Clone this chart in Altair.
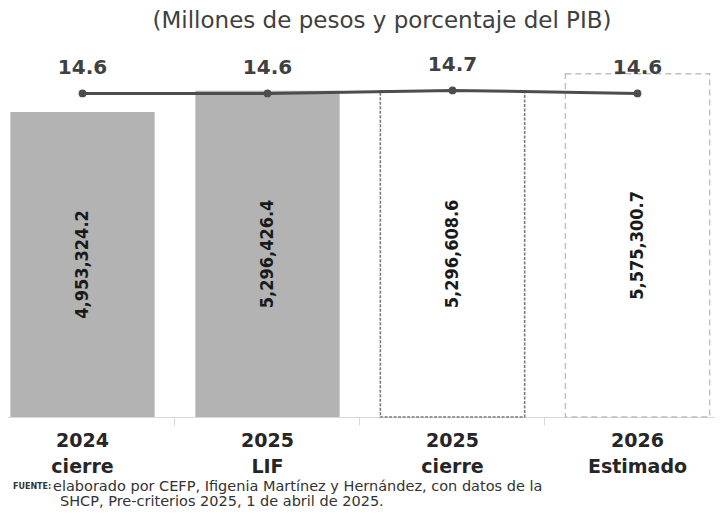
import altair as alt
import pandas as pd

# ---- data ----
anios = ["2024", "2025", "2025", "2026"]
etapas = ["cierre", "LIF", "cierre", "Estimado"]
montos = [4953324.2, 5296426.4, 5296608.6, 5575300.7]
pib = [14.6, 14.6, 14.7, 14.6]
tipos = ["real", "real", "cierre", "estimado"]

subtitulo = ["(Millones de pesos y porcentaje del PIB)"]
fuente_tag = ["FUENTE:"]
fuente_l1 = ["elaborado por CEFP, Ifigenia Martínez y Hernández, con datos de la"]
fuente_l2 = ["SHCP, Pre-criterios 2025, 1 de abril de 2025."]

cats = [f"{a} {e}" for a, e in zip(anios, etapas)]
df = pd.DataFrame({"cat": cats, "monto": montos, "pib": pib, "tipo": tipos})

FONT = "DejaVu Sans"
NUMFONT = "DejaVu Sans Condensed"

x = alt.X(
    "cat:N",
    sort=cats,
    scale=alt.Scale(domain=cats, range=[-18, 722], paddingInner=0.22, paddingOuter=0.11),
    axis=alt.Axis(
        title=None,
        labelExpr="split(datum.label, ' ')",
        labelAngle=0,
        labelFont=FONT,
        labelFontSize=19,
        labelFontWeight="bold",
        labelColor="#262626",
        labelLineHeight=26,
        labelPadding=6,
        tickSize=8,
        tickColor="#d9d9d9",
        domainColor="#d9d9d9",
        bandPosition=1.141,
        grid=False,
    ),
)

ybar = alt.Scale(domain=[0, 6155000], nice=False, zero=True)
yline = alt.Scale(domain=[3.8, 16.45], nice=False, zero=False)

base = alt.Chart(df)

bars_real = base.transform_filter("datum.tipo == 'real'").mark_bar(color="#b3b3b3").encode(
    x=x, y=alt.Y("monto:Q", scale=ybar, axis=None)
)
bars_cierre = base.transform_filter("datum.tipo == 'cierre'").mark_bar(
    fill="#ffffff", stroke="#7a7a7a", strokeDash=[3, 1.5], strokeWidth=1.6
).encode(x=x, y=alt.Y("monto:Q", scale=ybar, axis=None))
bars_est = base.transform_filter("datum.tipo == 'estimado'").mark_bar(
    fill="#ffffff", stroke="#bfbfbf", strokeDash=[6, 4], strokeWidth=1.4
).encode(x=x, y=alt.Y("monto:Q", scale=ybar, axis=None))

valores = base.transform_calculate(mitad="datum.monto / 2").mark_text(
    angle=270, font=NUMFONT, fontSize=18, fontWeight="bold", color="#1a1a1a",
    baseline="middle", align="center"
).encode(
    x=x,
    y=alt.Y("mitad:Q", scale=ybar, axis=None),
    text=alt.Text("monto:Q", format=",.1f"),
)

linea = base.mark_line(color="#4d4d4d", strokeWidth=3).encode(
    x=x, y=alt.Y("pib:Q", scale=yline, axis=None)
)
puntos = base.mark_point(filled=True, size=60, color="#4d4d4d", opacity=1).encode(
    x=x, y=alt.Y("pib:Q", scale=yline, axis=None)
)
etiquetas = base.mark_text(
    dy=-25, font=FONT, fontSize=20, fontWeight="bold", color="#404040", baseline="middle"
).encode(
    x=x, y=alt.Y("pib:Q", scale=yline, axis=None), text=alt.Text("pib:Q", format=".1f")
)

sub = alt.Chart(pd.DataFrame({"t": subtitulo})).mark_text(
    font=FONT, fontSize=23, color="#404040", align="center", baseline="middle"
).encode(x=alt.value(374), y=alt.value(-17), text="t:N")

tag = alt.Chart(pd.DataFrame({"t": fuente_tag})).mark_text(
    font=FONT, fontSize=8, fontWeight="bold", color="#333333", align="left", baseline="middle"
).encode(x=alt.value(5), y=alt.value(449), text="t:N")

l1 = alt.Chart(pd.DataFrame({"t": fuente_l1})).mark_text(
    font=FONT, fontSize=14.5, color="#333333", align="left", baseline="middle"
).encode(x=alt.value(45), y=alt.value(449), text="t:N")

l2 = alt.Chart(pd.DataFrame({"t": fuente_l2})).mark_text(
    font=FONT, fontSize=14.5, color="#333333", align="left", baseline="middle"
).encode(x=alt.value(52), y=alt.value(464), text="t:N")

chart = (
    alt.layer(bars_real, bars_cierre, bars_est, valores, linea, puntos, etiquetas, sub, tag, l1, l2)
    .resolve_scale(y="independent")
    .properties(
        width=707,
        height=379,
        autosize=alt.AutoSizeParams(type="none"),
        padding={"left": 0, "top": 30, "right": 0, "bottom": 92},
        background="#ffffff",
    )
    .configure_view(stroke=None)
)

chart.save("out.html", embed_options={"renderer": "svg", "actions": False})
